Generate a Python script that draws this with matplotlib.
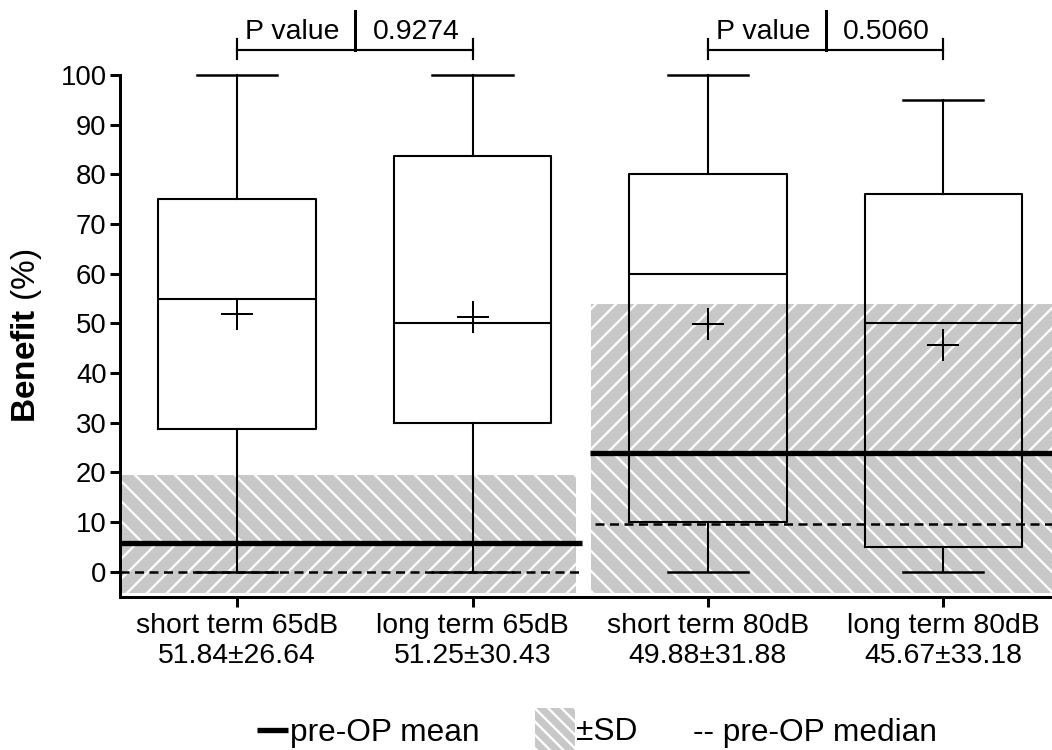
import matplotlib
matplotlib.use("Agg")
import matplotlib.pyplot as plt
from matplotlib.lines import Line2D
from matplotlib.patches import Rectangle

# ---------------- data ----------------
categories = ["short term 65dB", "long term 65dB", "short term 80dB", "long term 80dB"]
mean_sd_labels = ["51.84\u00b126.64", "51.25\u00b130.43", "49.88\u00b131.88", "45.67\u00b133.18"]
whislo = [0, 0, 0, 0]
q1 = [28.8, 30.0, 10.0, 5.0]
medians = [55.0, 50.0, 60.0, 50.0]
q3 = [75.0, 83.6, 80.0, 76.0]
whishi = [100, 100, 100, 95]
means = [51.84, 51.25, 49.88, 45.67]

# pre-operative reference values (65dB group, 80dB group)
preop_mean = [5.7, 24.0]
preop_sd = [13.8, 30.0]
preop_median = [0.0, 9.7]

p_pairs = [(0, 1), (2, 3)]
p_values = ["0.9274", "0.5060"]

yticks = [0, 10, 20, 30, 40, 50, 60, 70, 80, 90, 100]

# ---------------- style ----------------
DPI = 120
plt.rcParams["font.family"] = ["Liberation Sans", "DejaVu Sans"]
plt.rcParams["mathtext.fontset"] = "custom"
plt.rcParams["mathtext.rm"] = "Liberation Sans"
plt.rcParams["mathtext.bf"] = "Liberation Sans:bold"
plt.rcParams["hatch.linewidth"] = 1.4

GRAY = "#c8c8c8"

fig = plt.figure(figsize=(1052 / DPI, 750 / DPI), dpi=DPI)
ax = fig.add_axes([120 / 1052, 1 - 596.6 / 750, 1 - 120 / 1052, (596.6 - 75) / 750])

x = list(range(len(categories)))
ax.set_xlim(-0.497, 3.461)
ax.set_ylim(-5, 100)
band_floor = -4.2

# group spans in data x
group_spans = [(-0.497, 1.44), (1.504, 3.461)]
mean_spans = [(-0.497, 1.465), (1.498, 3.461)]
median_spans = [(-0.497, 1.465), (1.519, 3.461)]
upper_hatch = ["\\\\", "//"]
lower_hatch = ["//", "\\\\"]

for g in range(2):
    x0, x1 = group_spans[g]
    m = preop_mean[g]
    lo = max(m - preop_sd[g], band_floor)
    hi = m + preop_sd[g]
    ax.fill_between([x0, x1], m, hi, facecolor=GRAY, edgecolor="white",
                    hatch=upper_hatch[g], linewidth=0, zorder=0)
    ax.fill_between([x0, x1], lo, m, facecolor=GRAY, edgecolor="white",
                    hatch=lower_hatch[g], linewidth=0, zorder=0)
    mx0, mx1 = mean_spans[g]
    ax.plot([mx0, mx1], [m, m], color="black", lw=3.2, solid_capstyle="butt", zorder=4,
            clip_on=False)
    dx0, dx1 = median_spans[g]
    ax.plot([dx0, dx1], [preop_median[g]] * 2, color="black", lw=1.5,
            dashes=(3.6, 2.2), zorder=4, clip_on=False)

stats = []
for i in range(len(categories)):
    stats.append(dict(med=medians[i], q1=q1[i], q3=q3[i], whislo=whislo[i],
                      whishi=whishi[i], mean=means[i], fliers=[]))

lw = 1.25
bp = ax.bxp(stats, positions=x, widths=0.667, capwidths=0.34, showmeans=True,
            showfliers=False, manage_ticks=False,
            boxprops=dict(color="black", linewidth=lw),
            medianprops=dict(color="black", linewidth=lw),
            whiskerprops=dict(color="black", linewidth=lw),
            capprops=dict(color="black", linewidth=1.5),
            meanprops=dict(marker="+", markersize=19, markeredgecolor="black",
                           markeredgewidth=1.2, linestyle="none"))
for key, arts in bp.items():
    for a in arts:
        a.set_clip_on(False)
        a.set_zorder(3)

# P-value brackets
for (a, b), pv in zip(p_pairs, p_values):
    xa, xb = x[a], x[b]
    ax.plot([xa, xa, xb, xb], [103.2, 105, 105, 103.2], color="black", lw=1.3,
            clip_on=False, solid_joinstyle="miter")
    ax.plot([xa, xa], [105, 107.2], color="black", lw=1.3, clip_on=False)
    ax.plot([xb, xb], [105, 107.2], color="black", lw=1.3, clip_on=False)
    mid = (xa + xb) / 2
    ax.plot([mid, mid], [105, 112.8], color="black", lw=1.8, clip_on=False)
    ax.text(mid - 0.065, 107.3, "P value", ha="right", va="baseline", fontsize=17)
    ax.text(mid + 0.075, 107.3, pv, ha="left", va="baseline", fontsize=17)

# axes styling
for s in ["top", "right"]:
    ax.spines[s].set_visible(False)
ax.spines["left"].set_linewidth(1.8)
ax.spines["bottom"].set_linewidth(1.8)
ax.spines["left"].set_bounds(-5, 100)

ax.set_yticks(yticks)
ax.set_yticklabels([str(v) for v in yticks])
ax.tick_params(axis="y", length=6, width=1.8, labelsize=16.5, pad=2)
ax.set_xticks(x)
ax.set_xticklabels([f"{c}\n{l}" for c, l in zip(categories, mean_sd_labels)],
                   linespacing=1.2)
ax.tick_params(axis="x", length=6, width=1.8, labelsize=17, pad=4)

ax.set_ylabel(r"$\mathbf{Benefit}$ (%)", fontsize=20)
ax.yaxis.set_label_coords(-0.082, 0.5)

# bottom legend (manual, figure coordinates)
fw, fh = 1052.0, 750.0
base = 740.5
fig.add_artist(Line2D([257 / fw, 288 / fw], [1 - (base - 11) / fh] * 2, color="black",
                      lw=3.2, solid_capstyle="butt"))
fig.text(290 / fw, 1 - base / fh, "pre-OP mean", fontsize=19, ha="left", va="baseline")
fig.add_artist(Rectangle((535 / fw, 0), 40 / fw, (750 - 708) / fh, facecolor=GRAY,
                         edgecolor="white", hatch="\\\\\\", linewidth=0,
                         transform=fig.transFigure))
fig.text(576 / fw, 1 - base / fh, "\u00b1SD", fontsize=19, ha="left", va="baseline")
fig.text(693 / fw, 1 - base / fh, "-- pre-OP median", fontsize=19, ha="left",
         va="baseline")

fig.savefig("out.png", dpi=DPI)
